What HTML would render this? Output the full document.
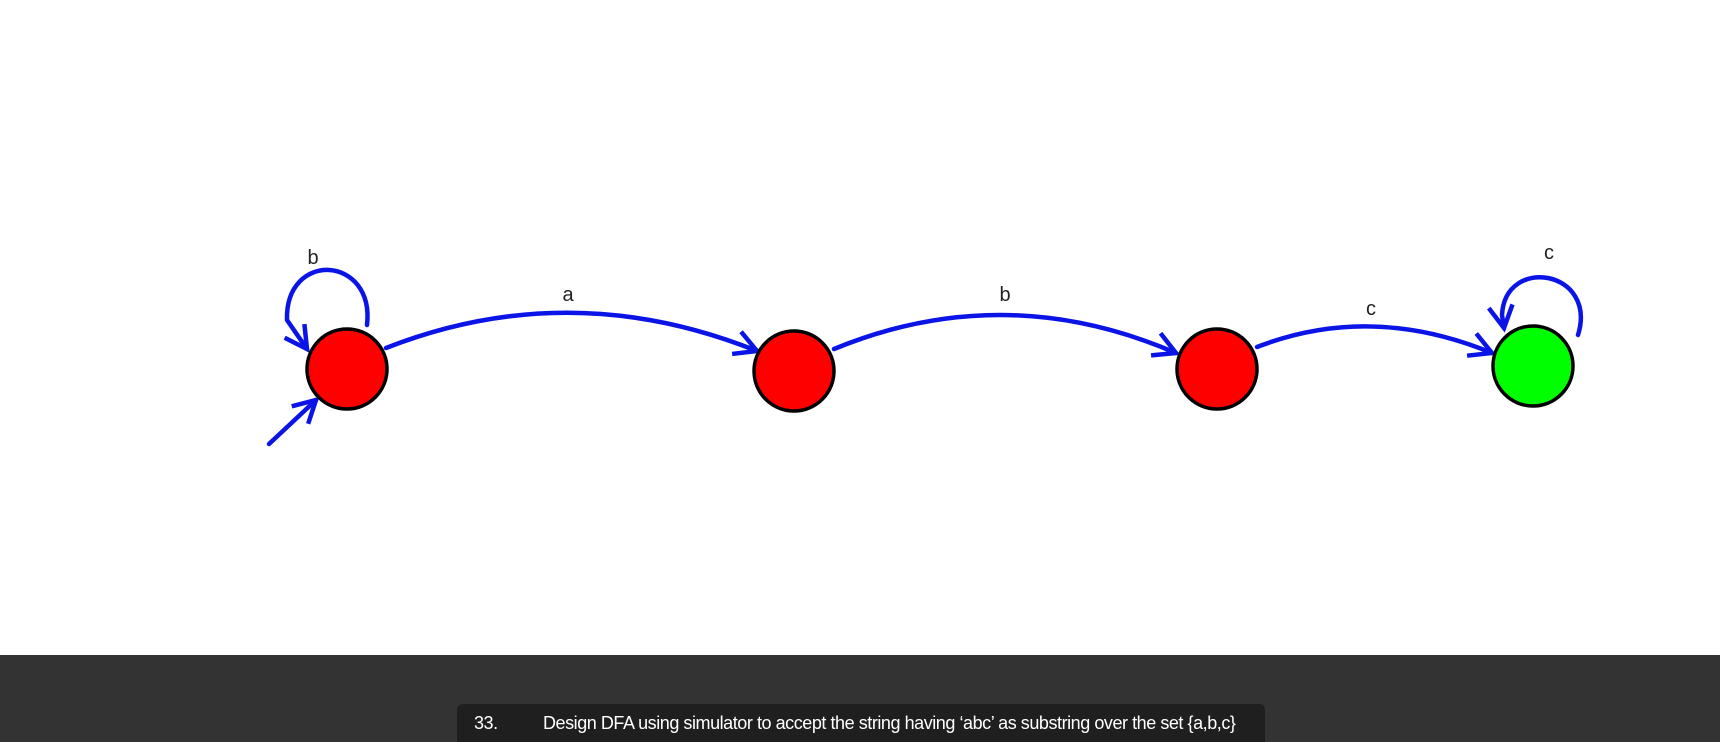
<!DOCTYPE html>
<html><head><meta charset="utf-8"><style>
html,body{margin:0;padding:0;width:1720px;height:742px;overflow:hidden;background:#fff;font-family:"Liberation Sans",sans-serif}
#footer{position:absolute;left:0;top:655px;width:1720px;height:87px;background:#333}
#cap{position:absolute;left:457px;top:704px;width:808px;height:38px;background:#1f1f1f;border-radius:6px 6px 0 0;color:#fff;font-size:18px;line-height:38px;font-family:"Liberation Sans",sans-serif;letter-spacing:-0.45px}
#cap .n{position:absolute;left:17px}
#cap .t{position:absolute;left:86px;white-space:nowrap}
</style></head><body>
<svg id="dfa" width="1720" height="655" style="position:absolute;left:0;top:0">
<defs>
<marker id="ah2" markerWidth="30" markerHeight="30" refX="24" refY="14" orient="auto" markerUnits="userSpaceOnUse">
<polyline points="2,2 24,14 2,26" fill="none" stroke="#0a14e6" stroke-width="4.5"/>
</marker>
</defs>
<g fill="none" stroke="#0a14e6" stroke-width="4.5" stroke-linecap="round">
<path d="M386,348 Q570,276 757,351" marker-end="url(#ah2)"/>
<path d="M834,349 Q1004,279 1176,353" marker-end="url(#ah2)"/>
<path d="M1257,347 Q1371,303 1492,353" marker-end="url(#ah2)"/>
<path d="M367,325 C375,255 285,250 287,320 L307,349" marker-end="url(#ah2)"/>
<path d="M1578,335 C1598,270 1505,255 1502,315 L1504,328" marker-end="url(#ah2)"/>
<path d="M269,444 L316,400" marker-end="url(#ah2)"/>
</g>
<g stroke="#000" stroke-width="3.5">
<circle cx="347" cy="369" r="40" fill="#f00"/>
<circle cx="794" cy="371" r="40" fill="#f00"/>
<circle cx="1217" cy="369" r="40" fill="#f00"/>
<circle cx="1533" cy="366" r="40" fill="#0f0"/>
</g>
<g font-family="Liberation Sans, sans-serif" font-size="20" fill="#222" text-anchor="middle">
<text x="313" y="264">b</text>
<text x="568" y="301">a</text>
<text x="1005" y="301">b</text>
<text x="1371" y="315">c</text>
<text x="1549" y="259">c</text>
</g>
</svg>
<div id="footer"></div>
<div id="cap"><span class="n">33.</span><span class="t">Design DFA using simulator to accept the string having ‘abc’ as substring over the set {a,b,c}</span></div>
</body></html>
